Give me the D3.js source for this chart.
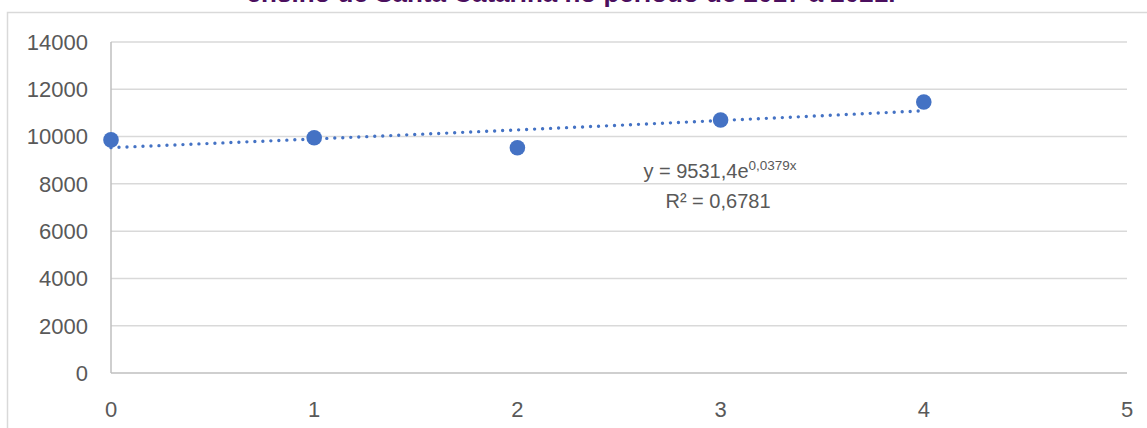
<!DOCTYPE html>
<html>
<head>
<meta charset="utf-8">
<script src="https://cdn.jsdelivr.net/npm/d3@7"></script>
<style>
  body { margin: 0; background: #fff; }
  svg { display: block; }
</style>
</head>
<body>
<svg id="chart"></svg>
<script>
const titleText = "ensino de Santa Catarina no período de 2017 a 2021.";
const xValues = [0, 1, 2, 3, 4];
const yValues = [9860, 9950, 9530, 10700, 11460];
const yTicks = [0, 2000, 4000, 6000, 8000, 10000, 12000, 14000];
const xTicks = [0, 1, 2, 3, 4, 5];
// trendline coefficients as printed on the chart
const trendA = 9531.4;
const trendB = 0.0379;
const r2Text = "0,6781";

const width = 1147;
const height = 428;
const blue = "#4472c4";
const textGray = "#595959";
const font = "'Liberation Sans', Arial, sans-serif";

const svg = d3.select("#chart").attr("width", width).attr("height", height);

// outer frame (only top and left visible)
svg.append("path")
  .attr("d", `M7.5,${height} V12.5 H${width}`)
  .attr("fill", "none")
  .attr("stroke", "#d9d9d9")
  .attr("stroke-width", 1.5);

// title, cut off at the top like in the source
svg.append("text")
  .attr("x", 571)
  .attr("y", 2)
  .attr("text-anchor", "middle")
  .attr("font-family", font)
  .attr("font-weight", "bold")
  .attr("font-size", 26)
  .attr("fill", "#4b0f5e")
  .text(titleText);

const x = d3.scaleLinear().domain([0, 5]).range([111, 1127]);
const y = d3.scaleLinear().domain([0, 14000]).range([373, 42]);

// gridlines
svg.append("g")
  .selectAll("line")
  .data(yTicks.slice(1))
  .enter()
  .append("line")
  .attr("x1", x(0))
  .attr("x2", x(5))
  .attr("y1", (d) => y(d))
  .attr("y2", (d) => y(d))
  .attr("stroke", "#d9d9d9")
  .attr("stroke-width", 1.5);

// axis lines
svg.append("line")
  .attr("x1", x(0)).attr("x2", x(0))
  .attr("y1", y(14000)).attr("y2", y(0))
  .attr("stroke", "#bfbfbf").attr("stroke-width", 1.5);
svg.append("line")
  .attr("x1", x(0)).attr("x2", x(5))
  .attr("y1", y(0)).attr("y2", y(0))
  .attr("stroke", "#bfbfbf").attr("stroke-width", 1.5);

// tick labels
svg.append("g")
  .selectAll("text")
  .data(yTicks)
  .enter()
  .append("text")
  .attr("x", 88)
  .attr("y", (d) => y(d))
  .attr("dy", "0.36em")
  .attr("text-anchor", "end")
  .attr("font-family", font)
  .attr("font-size", 22)
  .attr("fill", textGray)
  .text((d) => d);

svg.append("g")
  .selectAll("text")
  .data(xTicks)
  .enter()
  .append("text")
  .attr("x", (d) => x(d))
  .attr("y", 409)
  .attr("dy", "0.36em")
  .attr("text-anchor", "middle")
  .attr("font-family", font)
  .attr("font-size", 22)
  .attr("fill", textGray)
  .text((d) => d);

// exponential trendline
const trendPts = d3.range(0, 4.0001, 0.05).map((t) => [t, trendA * Math.exp(trendB * t)]);
svg.append("path")
  .datum(trendPts)
  .attr("d", d3.line().x((d) => x(d[0])).y((d) => y(d[1])))
  .attr("fill", "none")
  .attr("stroke", blue)
  .attr("stroke-width", 3.4)
  .attr("stroke-linecap", "round")
  .attr("stroke-dasharray", "0 8");

// points
svg.append("g")
  .selectAll("circle")
  .data(xValues)
  .enter()
  .append("circle")
  .attr("cx", (d) => x(d))
  .attr("cy", (d, i) => y(yValues[i]))
  .attr("r", 7.8)
  .attr("fill", blue);

// equation label
const eq = svg.append("text")
  .attr("x", 720)
  .attr("y", 178)
  .attr("text-anchor", "middle")
  .attr("font-family", font)
  .attr("font-size", 20)
  .attr("fill", textGray);
eq.append("tspan").text("y = " + String(trendA).replace(".", ",") + "e");
eq.append("tspan")
  .attr("font-size", 13.5)
  .attr("dy", -8)
  .text(String(trendB).replace(".", ",") + "x");

svg.append("text")
  .attr("x", 718)
  .attr("y", 208)
  .attr("text-anchor", "middle")
  .attr("font-family", font)
  .attr("font-size", 20)
  .attr("fill", textGray)
  .text("R² = " + r2Text);
</script>
</body>
</html>
